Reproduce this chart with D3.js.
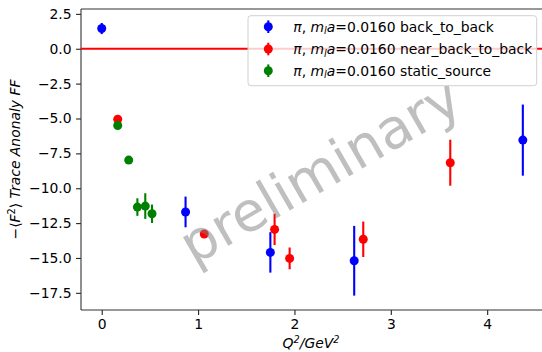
<!DOCTYPE html>
<html>
<head>
<meta charset="utf-8">
<script src="https://cdn.jsdelivr.net/npm/d3@7"></script>
<style>
  body { margin: 0; background: #fff; }
  svg { display: block; font-family: "DejaVu Sans", sans-serif; }
</style>
</head>
<body>
<svg id="chart" width="542" height="352"></svg>
<script>
// data
const q2Back = [0.0, 0.87, 1.75, 2.62, 4.37];
const valBack = [1.45, -11.7, -14.6, -15.2, -6.55];
const errBack = [0.4, 1.1, 1.45, 2.5, 2.55];

const q2Near = [0.166, 1.064, 1.794, 1.95, 2.714, 3.617];
const valNear = [-5.05, -13.28, -12.95, -15.03, -13.66, -8.17];
const errNear = [0.2, 0.25, 1.12, 0.78, 1.27, 1.65];

const q2Static = [0.166, 0.28, 0.37, 0.452, 0.522];
const valStatic = [-5.5, -7.98, -11.35, -11.28, -11.83];
const errStatic = [0.15, 0.15, 0.63, 0.92, 0.66];

const xTicks = [0, 1, 2, 3, 4];
const yTicks = [2.5, 0, -2.5, -5, -7.5, -10, -12.5, -15, -17.5];

const seriesNames = ["back_to_back", "near_back_to_back", "static_source"];
const seriesColors = ["#0000ff", "#ff0000", "#008000"];

const series = [
  { q: q2Back, v: valBack, e: errBack },
  { q: q2Near, v: valNear, e: errNear },
  { q: q2Static, v: valStatic, e: errStatic }
];

const svg = d3.select("#chart");
const plotL = 81, plotT = 9, plotR = 545, plotB = 310;

const x = d3.scaleLinear().domain([-0.215, 4.6]).range([plotL, plotR]);
const y = d3.scaleLinear().domain([-18.73, 2.85]).range([plotB, plotT]);

// axes
const xAxis = svg.append("g")
  .attr("transform", `translate(0,${plotB})`)
  .call(d3.axisBottom(x).tickValues(xTicks).tickFormat(d3.format("d")).tickSize(4.9).tickPadding(4.5));
const yAxis = svg.append("g")
  .attr("transform", `translate(${plotL},0)`)
  .call(d3.axisLeft(y).tickValues(yTicks).tickFormat(d => d3.format(".1f")(d).replace("-", "\u2212")).tickSize(4.9).tickPadding(4.5));

[xAxis, yAxis].forEach(g => {
  g.select(".domain").remove();
  g.selectAll(".tick line").attr("stroke", "#222").attr("stroke-width", 1.1);
  g.selectAll(".tick text").attr("font-size", 13.9).attr("fill", "#000")
    .attr("font-family", "DejaVu Sans");
});

// spines
svg.append("line").attr("x1", plotL).attr("x2", plotL).attr("y1", plotT).attr("y2", plotB)
  .attr("stroke", "#333").attr("stroke-width", 1.1);
svg.append("line").attr("x1", plotL).attr("x2", 542).attr("y1", plotB).attr("y2", plotB)
  .attr("stroke", "#333").attr("stroke-width", 1.1);
svg.append("line").attr("x1", plotL).attr("x2", 542).attr("y1", plotT).attr("y2", plotT)
  .attr("stroke", "#333").attr("stroke-width", 1.1);

// zero line
svg.append("line")
  .attr("x1", plotL).attr("x2", 542)
  .attr("y1", y(0)).attr("y2", y(0))
  .attr("stroke", "#ff0000").attr("stroke-width", 2);

// points with error bars
series.forEach((s, i) => {
  const g = svg.append("g");
  const pts = s.q.map((q, k) => ({ q: q, v: s.v[k], e: s.e[k] }));
  g.selectAll("line").data(pts).enter().append("line")
    .attr("x1", d => x(d.q)).attr("x2", d => x(d.q))
    .attr("y1", d => y(d.v + d.e)).attr("y2", d => y(d.v - d.e))
    .attr("stroke", seriesColors[i]).attr("stroke-width", 2.1);
  g.selectAll("circle").data(pts).enter().append("circle")
    .attr("cx", d => x(d.q)).attr("cy", d => y(d.v))
    .attr("r", 4.5).attr("fill", seriesColors[i]);
});

// watermark
svg.append("text")
  .attr("transform", "translate(320,171) rotate(-30)")
  .attr("text-anchor", "middle").attr("dominant-baseline", "central")
  .attr("font-size", 55).attr("fill", "#808080").attr("opacity", 0.5)
  .text("preliminary");

// axis labels
const xl = svg.append("text").attr("x", 311).attr("y", 348)
  .attr("text-anchor", "middle").attr("font-size", 13.9).attr("font-style", "italic");
xl.append("tspan").text("Q");
xl.append("tspan").attr("dy", -5).attr("font-size", 9.7).text("2");
xl.append("tspan").attr("dy", 5).text("/GeV");
xl.append("tspan").attr("dy", -5).attr("font-size", 9.7).text("2");

const yl = svg.append("text")
  .attr("transform", "translate(20,159.5) rotate(-90)")
  .attr("text-anchor", "middle").attr("font-size", 13.9);
yl.append("tspan").text("\u2212\u27e8");
yl.append("tspan").attr("font-style", "italic").text("F");
yl.append("tspan").attr("dy", -5).attr("font-size", 9.7).text("2");
yl.append("tspan").attr("dy", 5).text("\u27e9 ");
yl.append("tspan").attr("font-style", "italic").text("Trace Anonaly FF");

// legend
const lg = svg.append("g");
lg.append("rect")
  .attr("x", 248).attr("y", 15.7).attr("width", 288.7).attr("height", 70)
  .attr("rx", 3).attr("fill", "#fff").attr("fill-opacity", 0.8)
  .attr("stroke", "#d0d0d0").attr("stroke-width", 1);
const rowY = [26.7, 49, 70.7];
seriesNames.forEach((name, i) => {
  const ry = rowY[i];
  lg.append("line").attr("x1", 268.3).attr("x2", 268.3).attr("y1", ry - 6.3).attr("y2", ry + 6.3)
    .attr("stroke", seriesColors[i]).attr("stroke-width", 2.1);
  lg.append("circle").attr("cx", 268.3).attr("cy", ry).attr("r", 4.5).attr("fill", seriesColors[i]);
  const t = lg.append("text").attr("x", 293.3).attr("y", ry + 5).attr("font-size", 13.9);
  t.append("tspan").attr("font-style", "italic").text("\u03c0");
  t.append("tspan").text(", ");
  t.append("tspan").attr("font-style", "italic").text("m");
  t.append("tspan").attr("font-style", "italic").attr("font-size", 9.7).attr("dy", 2.5).text("l");
  t.append("tspan").attr("font-style", "italic").attr("dy", -2.5).text("a");
  t.append("tspan").text("=0.0160 " + name);
});
</script>
</body>
</html>
